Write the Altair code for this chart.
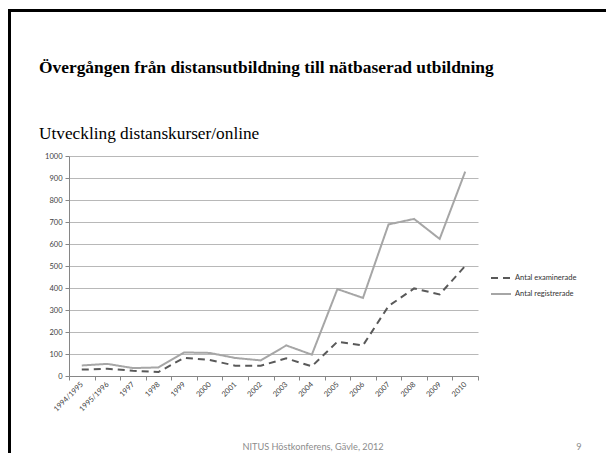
import altair as alt
import pandas as pd

years = ["1994/1995", "1995/1996", "1997", "1998", "1999", "2000", "2001", "2002",
         "2003", "2004", "2005", "2006", "2007", "2008", "2009", "2010"]
examinerade = [29, 33, 24, 18, 83, 73, 47, 47, 80, 44, 156, 139, 318, 398, 371, 500]
registrerade = [48, 55, 36, 39, 107, 105, 82, 71, 139, 97, 395, 355, 689, 714, 623, 929]
series_names = ["Antal examinerade", "Antal registrerade"]

title_text = "Övergången från distansutbildning till nätbaserad utbildning"
subtitle_text = "Utveckling distanskurser/online"
footer_text = "NITUS Höstkonferens, Gävle, 2012"
page_no = "9"

rows = []
for i, y in enumerate(years):
    rows.append({"year": y, "serie": series_names[0], "value": examinerade[i]})
    rows.append({"year": y, "serie": series_names[1], "value": registrerade[i]})
df = pd.DataFrame(rows)

legend_opts = dict(title=None, orient="none", legendX=421, legendY=111,
                   symbolType="stroke", symbolSize=400, symbolStrokeWidth=2,
                   labelFont="Lato", labelFontSize=7.5, labelColor="#333333",
                   labelOffset=3, rowPadding=1)

lines = alt.Chart(df).mark_line(strokeWidth=2).encode(
    x=alt.X("year:N", sort=years, bandPosition=0.5,
            scale=alt.Scale(type="band", paddingInner=0, paddingOuter=0),
            axis=alt.Axis(title=None, labelAngle=-45, labelAlign="right", labelBaseline="middle",
                          tickBand="extent", tickSize=4, tickColor="#868686",
                          domainColor="#868686", labelFont="Lato", labelFontSize=7.5,
                          labelColor="#404040", labelPadding=3, grid=False)),
    y=alt.Y("value:Q", scale=alt.Scale(domain=[0, 1000], nice=False),
            axis=alt.Axis(title=None, values=list(range(0, 1001, 100)), format="d", tickSize=4,
                          tickColor="#868686", domainColor="#868686",
                          gridColor="#b8b8b8", gridWidth=1, labelFont="Lato",
                          labelFontSize=7.5, labelColor="#404040", labelPadding=3)),
    color=alt.Color("serie:N", scale=alt.Scale(domain=series_names, range=["#595959", "#a6a6a6"]),
                    legend=alt.Legend(**legend_opts)),
    strokeDash=alt.StrokeDash("serie:N", scale=alt.Scale(domain=series_names, range=[[7, 5], [1, 0]]),
                              legend=alt.Legend(**legend_opts)),
)

one = alt.Data(values=[{"k": 1}])

title = alt.Chart(one).mark_text(font="Liberation Serif", fontWeight="bold", fontSize=17.4,
                                 align="left", baseline="alphabetic", color="black").encode(
    x=alt.value(-30), y=alt.value(-83), text=alt.value(title_text))
subtitle = alt.Chart(one).mark_text(font="Liberation Serif", fontSize=17.3,
                                    align="left", baseline="alphabetic", color="black").encode(
    x=alt.value(-30), y=alt.value(-17), text=alt.value(subtitle_text))
footer = alt.Chart(one).mark_text(font="Lato", fontSize=9.2, align="center",
                                  baseline="alphabetic", color="#8c8c8c").encode(
    x=alt.value(244), y=alt.value(294), text=alt.value(footer_text))
pnum = alt.Chart(one).mark_text(font="Lato", fontSize=9.2, align="center",
                                baseline="alphabetic", color="#8c8c8c").encode(
    x=alt.value(510), y=alt.value(294), text=alt.value(page_no))
top_border = alt.Chart(one).mark_rule(color="black", strokeWidth=3).encode(
    x=alt.value(-61), x2=alt.value(540), y=alt.value(-145.5))
left_border = alt.Chart(one).mark_rule(color="black", strokeWidth=3).encode(
    x=alt.value(-59.5), y=alt.value(-147), y2=alt.value(300))

chart = alt.layer(lines, title, subtitle, footer, pnum, top_border, left_border).properties(
    width=409, height=220,
    autosize=alt.AutoSizeParams(type="none"),
    padding={"left": 61, "top": 148, "right": 128, "bottom": 77},
    background="white",
).configure_view(stroke=None)

chart.save("out.html", embed_options={"renderer": "svg", "actions": False})
